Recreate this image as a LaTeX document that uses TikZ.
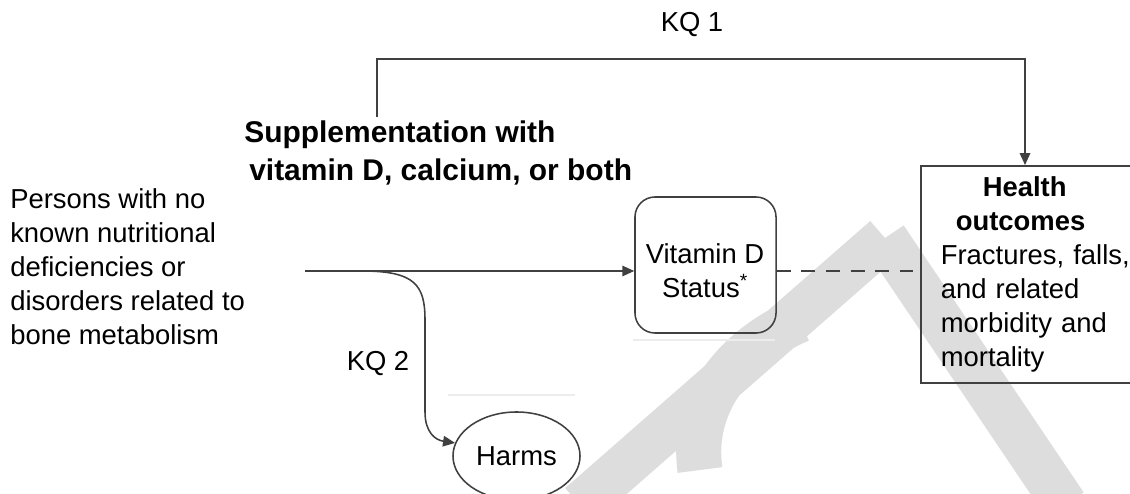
\documentclass[tikz,border=0pt]{standalone}
\usepackage{fontspec}
\setmainfont{Liberation Sans}
\usetikzlibrary{arrows.meta,shapes.geometric}

\definecolor{linegray}{RGB}{64,64,64}
\definecolor{wmgray}{RGB}{221,221,221}
\definecolor{faintgray}{RGB}{236,236,236}

\tikzset{
  every node/.style={inner sep=0pt},
  txt/.style={font=\fontsize{19.5}{24.2}\selectfont, align=left},
  boldtxt/.style={font=\fontsize{21.3}{27}\selectfont\bfseries, align=left},
  vitbox/.style={draw=linegray, line width=1.1pt, rounded corners=0.5cm,
    minimum width=3.525cm, minimum height=3.4cm},
  outbox/.style={draw=linegray, line width=1.1pt, txt, text width=4.75cm,
    inner xsep=0.5cm, inner ysep=0pt, minimum height=5.425cm, anchor=north west},
  harmell/.style={draw=linegray, line width=1.1pt, ellipse, txt,
    minimum width=3.175cm, minimum height=2.2cm},
  arr/.style={draw=linegray, line width=1.1pt, -{Triangle[length=8.5pt,width=7.5pt]}},
  dashline/.style={draw=linegray, line width=2pt, dash pattern=on 10pt off 7.5pt},
  wmark/.style={draw=wmgray, line width=32pt}
}

\begin{document}
\begin{tikzpicture}[x=0.025cm, y=-0.025cm]
    \useasboundingbox (0,0) rectangle (1130,493);
    \clip (0,0) rectangle (1130,493);
    \fill[white] (0,0) rectangle (1130,493);
    % watermark
    \draw[wmark] (580,505) -- (885,238);
    \draw[wmark] (885,238) -- (1065,505);
    \draw[wmark] (700,470) .. controls (690,400) and (740,345) .. (800,320);
    % faint artefacts
    \draw[faintgray, line width=2pt] (633,340) -- (775,340);
    \draw[faintgray, line width=1pt] (448,395) -- (575,395);
    % nodes
    \node[txt, anchor=west] (persons) at (10,267) {Persons with no\\known nutritional\\deficiencies or\\disorders related to\\bone metabolism};
    \node[boldtxt, anchor=west] (supp) at (244,153) {Supplementation with\\\hspace*{0.125cm}vitamin D, calcium, or both};
    \node[vitbox] (vitd) at (705.5,265) {};
    \node[txt, align=center] (vitdtxt) at (705,271) {Vitamin D\\Status\textsuperscript{*}};
    \node[outbox] (health) at (920,165) {\hspace*{1.05cm}\textbf{Health}\\\hspace*{0.375cm}\textbf{outcomes}\\Fractures, falls,\\and related\\morbidity and\\mortality};
    \node[harmell] (harms) at (516.5,456) {Harms};
    \node[txt] (kqone) at (692,25) {KQ 1};
    \node[txt] (kqtwo) at (378,364) {KQ 2};
    \coordinate (src) at (305,271);
    \coordinate (kqtop) at (377,117);
    \coordinate (kqcorner) at (1025,59);
    \coordinate (kqbranch) at (362,271);
    % connectors
    \draw[arr] (src) -- (vitd.west |- src);
    \draw[arr] (kqtop) |- (kqcorner) -- (kqcorner |- health.north);
    \draw[arr] (kqbranch) .. controls (415,271) and (425,285) .. (425,320) -- (425,412) .. controls (425,432) and (435,440) .. (harms.168);
    \draw[dashline] (vitd.east |- src) -- ([xshift=-0.18cm]health.west |- src);
\end{tikzpicture}
\end{document}
